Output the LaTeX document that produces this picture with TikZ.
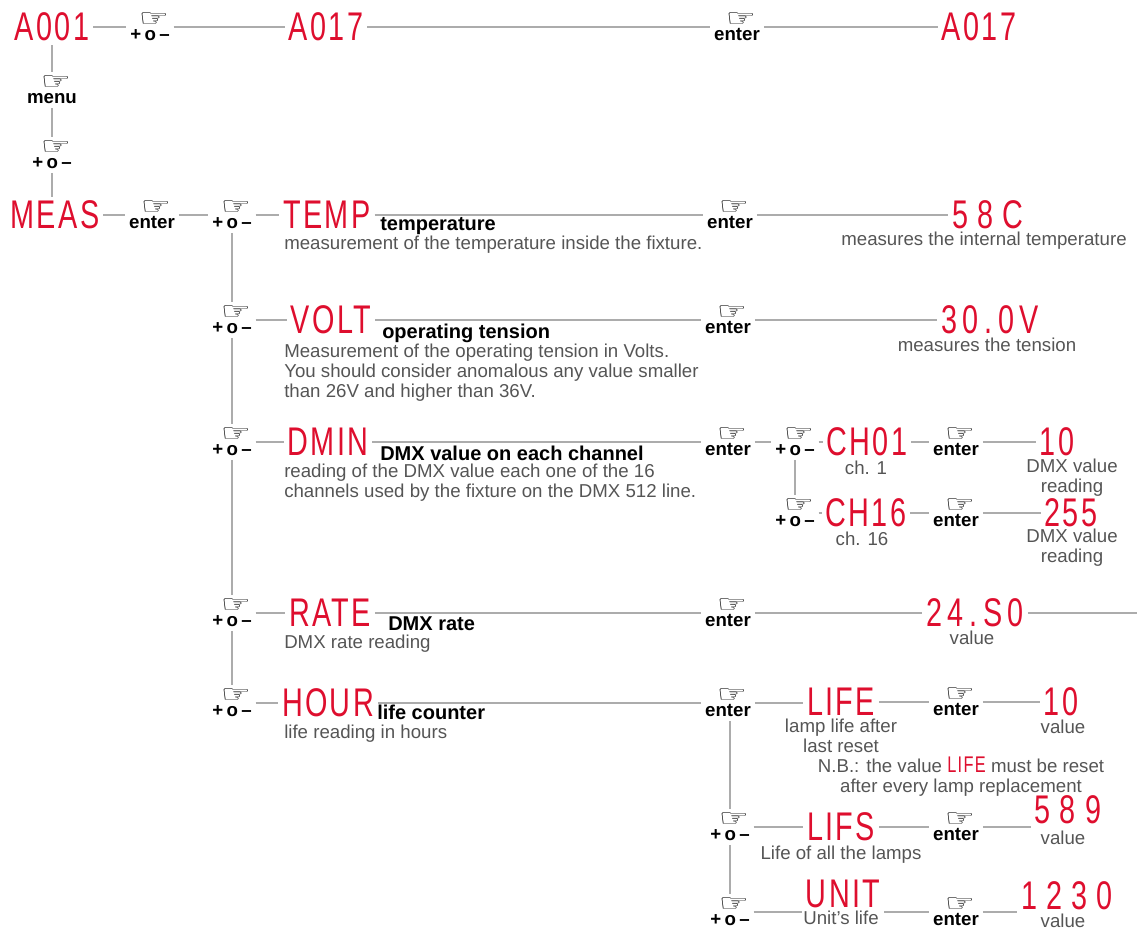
\documentclass[tikz,border=0pt]{standalone}
\usepackage{fontspec}
\setmainfont{Liberation Sans}
\newfontfamily\handfont[FakeStretch=1.4]{DejaVu Sans}
\newfontfamily\ledfont[FakeStretch=0.72,LetterSpace=6]{Liberation Sans}
\newfontfamily\ledmidfont[FakeStretch=0.72,LetterSpace=14]{Liberation Sans}
\newfontfamily\ledwidefont[FakeStretch=0.72,LetterSpace=23]{Liberation Sans}
\newfontfamily\notefont{Liberation Sans}
\usetikzlibrary{positioning}

\definecolor{ledred}{RGB}{222,14,46}
\definecolor{linegray}{RGB}{172,172,172}
\definecolor{notegray}{RGB}{85,85,85}

\newcommand{\keylbl}[1]{{\kern6pt\handfont\fontsize{18}{10}\selectfont\symbol{"261E}}\\[-0.5pt]#1}
\newcommand{\pom}{+\kern2.5pt o\kern2.5pt --}

\tikzset{
  led/.style={font=\ledfont\fontsize{30}{30}\selectfont, text=ledred, inner sep=0pt, outer sep=3pt},
  ledmid/.style={led, font=\ledmidfont\fontsize{30}{30}\selectfont},
  ledwide/.style={led, font=\ledwidefont\fontsize{30}{30}\selectfont},
  keyicon/.style={align=center, inner sep=0pt, outer sep=3pt, font=\bfseries\fontsize{14}{11}\selectfont},
  subtitle/.style={font=\bfseries\fontsize{15}{15}\selectfont, anchor=base west, inner sep=0pt},
  note/.style={font=\notefont\fontsize{14}{15}\selectfont, text=notegray, inner sep=0pt, align=left, anchor=north west},
  cnote/.style={note, align=center, anchor=center},
  link/.style={draw=linegray, line width=1.3pt},
}

\begin{document}
\begin{tikzpicture}[x=0.75pt,y=-0.75pt]
	\useasboundingbox (0,0) rectangle (1137,931);

	% top row
	\node[led] (a001) at (52,27) {A001};
	\node[keyicon] (k0) at (150,27) {\keylbl{\pom}};
	\node[led] (a017) at (326,27) {A017};
	\node[keyicon] (k0e) at (737,27) {\keylbl{enter}};
	\node[led] (a017b) at (979,27) {A017};
	\node[keyicon] (kmenu) at (52,90) {\keylbl{menu}};
	\node[keyicon] (kup) at (52,155) {\keylbl{\pom}};

	\path[link] (a001) -- (k0) -- (a017) -- (k0e) -- (a017b);
	\path[link] (a001) -- (kmenu) -- (kup);

	% MEAS
	\node[led] (meas) at (55,215) {MEAS};
	\node[keyicon] (kmeas) at (152,215) {\keylbl{enter}};
	\node[keyicon] (kt) at (232,215) {\keylbl{\pom}};
	\path[link] (kup) -- (kup |- meas.north);
	\path[link] (meas) -- (kmeas) -- (kt);

	% TEMP
	\node[led] (temp) at (327,215) {TEMP};
	\node[subtitle] (subtemp) at (380,230) {temperature};
	\node[note] (ntemp) at (284,236) {measurement of the temperature inside the fixture.};
	\node[keyicon] (kte) at (730,215) {\keylbl{enter}};
	\node[ledwide] (v58) at (988,215) {58C};
	\node[cnote] (n58) at (984,241) {measures the internal temperature};
	\path[link] (kt) -- (temp) -- (kte) -- (v58);

	% VOLT
	\node[keyicon] (kv) at (232,320) {\keylbl{\pom}};
	\node[led] (volt) at (331,320) {VOLT};
	\node[subtitle] (subvolt) at (382,338) {operating tension};
	\node[note] (nvolt) at (284,344) {Measurement of the operating tension in Volts.\\You should consider anomalous any value smaller\\than 26V and higher than 36V.};
	\node[keyicon] (kve) at (728,320) {\keylbl{enter}};
	\node[ledmid] (v30) at (990,320) {30.0V};
	\node[cnote] (n30) at (987,345) {measures the tension};
	\path[link] (kv) -- (volt) -- (kve) -- (v30);

	% DMIN
	\node[keyicon] (kd) at (232,442) {\keylbl{\pom}};
	\node[led] (dmin) at (328,442) {DMIN};
	\node[subtitle] (subdmin) at (380,460) {DMX value on each channel};
	\node[note] (ndmin) at (284,464) {reading of the DMX value each one of the 16\\channels used by the fixture on the DMX 512 line.};
	\node[keyicon] (kde) at (728,442) {\keylbl{enter}};
	\node[keyicon] (kch) at (795,442) {\keylbl{\pom}};
	\node[led] (ch01) at (867,442) {CH01};
	\node[cnote] (nch01) at (866,468) {ch. 1};
	\node[keyicon] (kc1e) at (956,442) {\keylbl{enter}};
	\node[led] (v10a) at (1057,442) {10};
	\node[cnote] (n10a) at (1072,478) {DMX value\\reading};
	\node[keyicon] (kch16) at (795,513) {\keylbl{\pom}};
	\node[led] (ch16) at (866,513) {CH16};
	\node[cnote] (nch16) at (862,539) {ch. 16};
	\node[keyicon] (kc16e) at (956,513) {\keylbl{enter}};
	\node[led] (v255) at (1071,513) {255};
	\node[cnote] (n255) at (1072,548) {DMX value\\reading};
	\path[link] (kd) -- (dmin) -- (kde) -- (kch) -- (ch01) -- (kc1e) -- (v10a);
	\path[link] (kch) -- (kch16) -- (ch16) -- (kc16e) -- (v255);

	% RATE
	\node[keyicon] (kr) at (232,613) {\keylbl{\pom}};
	\node[led] (rate) at (330,613) {RATE};
	\node[subtitle] (subrate) at (388,630) {DMX rate};
	\node[note] (nrate) at (284,635) {DMX rate reading};
	\node[keyicon] (kre) at (728,613) {\keylbl{enter}};
	\node[ledmid] (v24) at (975,613) {24.S0};
	\node[cnote] (n24) at (972,638) {value};
	\coordinate (rateend) at (1137,613);
	\path[link] (kr) -- (rate) -- (kre) -- (v24) -- (rateend);

	% HOUR
	\node[keyicon] (kh) at (232,703) {\keylbl{\pom}};
	\node[led] (hour) at (328,703) {HOUR};
	\node[subtitle] (subhour) at (377,719) {life counter};
	\node[note] (nhour) at (284,725) {life reading in hours};
	\node[keyicon] (khe) at (728,703) {\keylbl{enter}};
	\node[led] (life) at (841,702) {LIFE};
	\node[cnote] (nlife) at (841,736) {lamp life after\\last reset};
	\node[keyicon] (klfe) at (956,702) {\keylbl{enter}};
	\node[led] (v10b) at (1061,702) {10};
	\node[cnote] (n10b) at (1063,727) {value};
	\node[cnote] (nb) at (961,777) {N.B.: the value {\color{ledred}\ledfont\fontsize{17}{15}\selectfont LIFE} must be reset\\after every lamp replacement};
	\path[link] (kt) -- (kv) -- (kd) -- (kr) -- (kh);
	\path[link] (kh) -- (hour) -- (khe) -- (khe -| life.west);
	\path[link] (life) -- (klfe) -- (v10b);

	% LIFS
	\node[keyicon] (kls) at (730,827) {\keylbl{\pom}};
	\node[led] (lifs) at (841,827) {LIFS};
	\node[cnote] (nlifs) at (841,855) {Life of all the lamps};
	\node[keyicon] (klse) at (956,827) {\keylbl{enter}};
	\node[ledwide] (v589) at (1068,810) {589};
	\node[cnote] (n589) at (1063,838) {value};
	\path[link] (khe.south -| kls) -- (kls) -- (lifs) -- (klse) -- (klse -| v589.west);

	% UNIT
	\node[keyicon] (ku) at (730,912) {\keylbl{\pom}};
	\node[led] (unit) at (843,894) {UNIT};
	\node[cnote] (nunit) at (841,918) {Unit’s life};
	\node[keyicon] (kue) at (956,912) {\keylbl{enter}};
	\node[ledwide] (v1230) at (1067,896) {1230};
	\node[cnote] (n1230) at (1063,921) {value};
	\path[link] (kls) -- (ku) -- (ku -| unit.west);
	\path[link] (unit.east |- kue) -- (kue) -- (kue -| v1230.west);
\end{tikzpicture}
\end{document}
